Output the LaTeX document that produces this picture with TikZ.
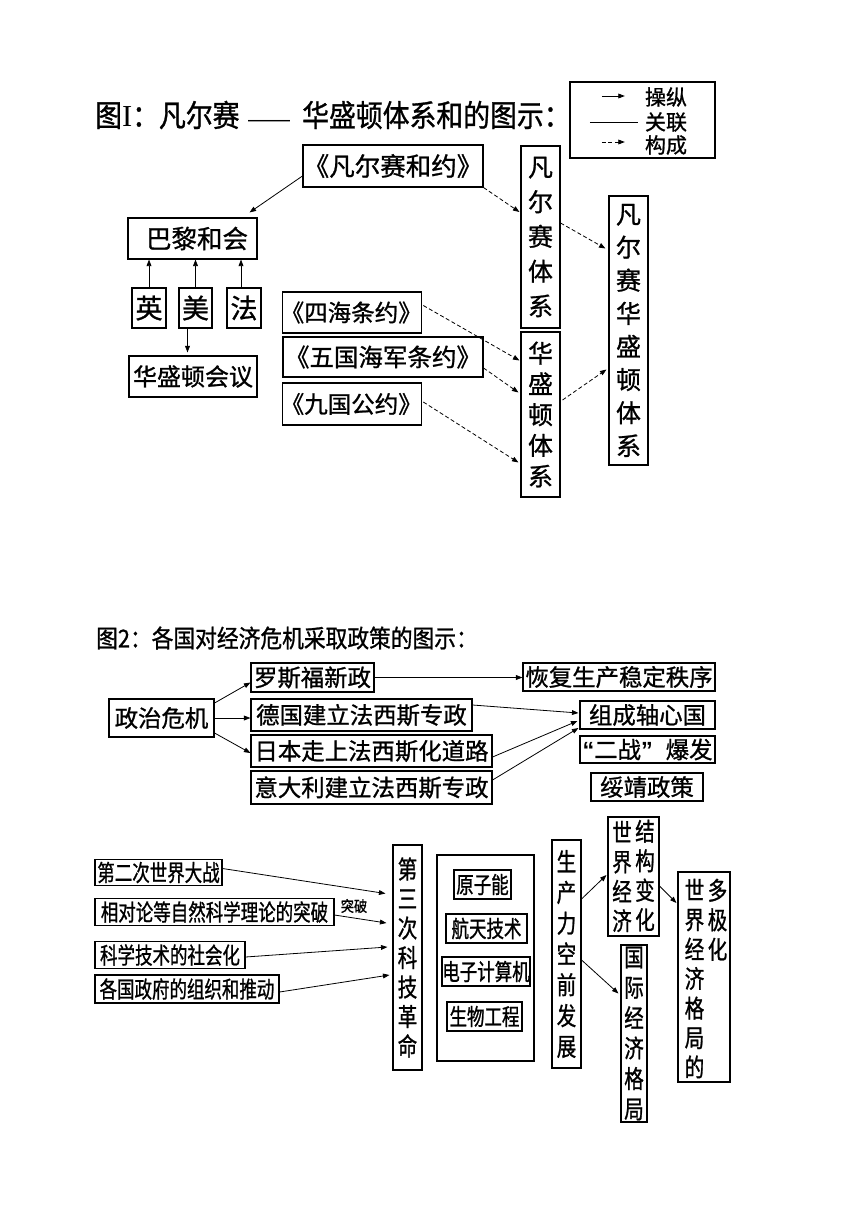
\documentclass[tikz,border=0pt]{standalone}
\usepackage{fontspec}
\setmainfont{Noto Sans CJK SC}[FakeBold=1]
\newfontfamily\fN[FakeBold=1]{Noto Sans CJK SC}
\newfontfamily\fA[FakeStretch=0.88,FakeBold=1]{Noto Sans CJK SC}
\newfontfamily\fC[FakeStretch=0.76,FakeBold=1]{Noto Sans CJK SC}
\newfontfamily\fV[FakeStretch=0.78,FakeBold=1]{Noto Sans CJK SC}
\newfontfamily\fS{Liberation Serif}
\newfontfamily\fQ{Liberation Sans}
\usetikzlibrary{arrows.meta}
\newcommand\kl[1]{\hspace{-#1pt}}
\begin{document}
\begin{tikzpicture}[x=1pt,y=-1pt,
  bx/.style={draw, line width=1.1pt, inner sep=0pt},
  sz/.style 2 args={minimum width=#1pt, minimum height=#2pt},
  fa/.style={font=\fN\fontsize{24}{28}\selectfont},
  fb/.style={font=\fN\fontsize{23.5}{28}\selectfont},
  fe/.style={font=\fN\fontsize{27}{28}\selectfont},
  fv/.style={align=center, font=\fN\fontsize{25}{#1}\selectfont},
  ft/.style={font=\fN\fontsize{23.4}{26}\selectfont},
  fc/.style={font=\fC\fontsize{23}{26}\selectfont},
  fw/.style={align=center, inner sep=0pt, font=\fV\fontsize{25}{#1}\selectfont},
  lgf/.style={inner sep=0pt, font=\fN\fontsize{21}{24}\selectfont},
  arr/.style={-{Triangle[length=6.5pt,width=4.8pt]}, line width=0.8pt},
  darr/.style={arr, dash pattern=on 4pt off 2.5pt}]
\useasboundingbox (0,0) rectangle (860,1215);
\fill[white] (0,0) rectangle (860,1215);

% ---------- Figure 1 ----------
\node[anchor=west, inner sep=0pt, font=\fA\fontsize{30.5}{32}\selectfont] (t1a) at (95,115) {图{\fS I}：凡尔赛};
\node[inner sep=0pt, font=\fQ\fontsize{21}{24}\selectfont] (t1d) at (269,123) {——};
\node[anchor=west, inner sep=0pt, font=\fA\fontsize{30.5}{32}\selectfont] (t1c) at (302,115) {华盛顿体系和的图示：};

\node[bx, sz={145}{76}] (lg) at (642.5,120) {};
\node[lgf] (l1) at (666,97) {操纵};
\node[lgf] (l2) at (666,122) {关联};
\node[lgf] (l3) at (666,145) {构成};
\draw[arr] ([xshift=-43pt,yshift=1pt]l1.west) -- ([xshift=-20pt,yshift=1pt]l1.west);
\draw[line width=0.8pt] ([xshift=-55pt]l2.west) -- ([xshift=-7pt]l2.west);
\draw[darr] ([xshift=-43pt,yshift=3pt]l3.west) -- ([xshift=-20pt,yshift=3pt]l3.west);

\node[bx, sz={180}{42}, font=\fN\fontsize{25.5}{28}\selectfont] (vt) at (393,166) {《凡尔赛和约》};
\node[bx, sz={129}{41}, font=\fN\fontsize{25.5}{28}\selectfont] (pl) at (192.5,238.5) {\hspace{9pt}巴黎和会};
\node[bx, sz={34}{40}, fe] (ying) at (149,308) {英};
\node[bx, sz={33}{40}, fe] (mei) at (195.5,308) {美};
\node[bx, sz={34}{40}, fe] (fa) at (244,308) {法};
\node[bx, sz={128}{41}, fa] (hy) at (193,376.5) {华盛顿会议};
\node[bx, sz={138}{41}, fb] (sh) at (352,312.5) {\kl{1.5}《四海条约》\kl{1.5}};
\node[bx, sz={200}{40}, font=\fN\fontsize{24.5}{28}\selectfont] (wg) at (383,357) {《五国海军条约》};
\node[bx, sz={138}{42}, fb] (jy) at (352,404) {\kl{1.5}《九国公约》\kl{1.5}};
\node[bx, sz={39}{182}, fv=34.75] (fes) at (540.5,237) {凡\\尔\\赛\\体\\系};
\node[bx, sz={39}{165}, fv=30.75] (hs) at (540.5,414.5) {华\\盛\\顿\\体\\系};
\node[bx, sz={39}{269}, fv=33.1] (fh) at (628.5,330.5) {凡\\尔\\赛\\华\\盛\\顿\\体\\系};

\draw[arr] ([yshift=-10pt]vt.west) -- ([xshift=-8pt,yshift=5pt]pl.north east);
\draw[arr] (ying.north) -- (ying.north |- pl.south);
\draw[arr] (mei.north) -- (mei.north |- pl.south);
\draw[arr] ([xshift=-3pt]fa.north) -- ([xshift=-3pt]fa.north |- pl.south);
\draw[arr, shorten >=3pt] ([xshift=-8pt]mei.south) -- ([xshift=-8pt]mei.south |- hy.north);

\draw[darr] (vt.south east) -- ([xshift=-1pt,yshift=25pt]fes.west);
\draw[darr] ([yshift=14pt]fes.east) -- ([xshift=-3pt,yshift=82pt]fh.west);
\draw[darr] ([xshift=1pt,yshift=7pt]sh.east) -- ([xshift=-1pt,yshift=54pt]hs.west);
\draw[darr] ([yshift=-11pt]wg.east) -- ([xshift=-2pt,yshift=22pt]hs.west);
\draw[darr] ([xshift=1pt,yshift=2pt]jy.east) -- ([xshift=-2pt,yshift=-48pt]hs.west);
\draw[darr] ([xshift=2pt,yshift=14.5pt]hs.east) -- ([xshift=-2pt,yshift=-39pt]fh.west);

% ---------- Figure 2 ----------
\node[anchor=west, inner sep=0pt, font=\fA\fontsize{24.7}{26}\selectfont] (t2) at (96,638) {图2：各国对经济危机采取政策的图示：};

\node[bx, sz={105}{38}, ft] (zz) at (161.5,718) {政治危机};
\node[bx, sz={123}{29}, ft] (ls) at (312.5,677.5) {罗斯福新政};
\node[bx, sz={192}{28}, ft] (hf) at (619,677) {恢复生产稳定秩序};
\node[bx, sz={221}{32}, ft] (dg) at (361.5,715) {德国建立法西斯专政};
\node[bx, sz={241}{32}, ft] (rb) at (371.5,751) {日本走上法西斯化道路};
\node[bx, sz={241}{33}, ft] (yd) at (371.5,787.5) {意大利建立法西斯专政};
\node[bx, sz={135}{28}, ft] (zx) at (647.5,715) {组成轴心国};
\node[bx, sz={135}{27}, ft] (ez) at (647.5,749.5) {{\fQ\bfseries “}二战{\fQ\bfseries ”}\hspace{13pt}爆发};
\node[bx, sz={112}{28}, ft] (sj) at (647,787) {绥靖政策};

\draw[arr] ([yshift=15pt]zz.east) -- ([yshift=-5pt]ls.west);
\draw[arr] (zz.east) -- (zz.east -| dg.west);
\draw[arr] ([yshift=-15pt]zz.east) -- ([yshift=-2pt]rb.west);
\draw[arr] (ls.east) -- (ls.east -| hf.west);
\draw[arr] ([yshift=10pt]dg.east) -- ([xshift=-1pt,yshift=2pt]zx.west);
\draw[arr] ([yshift=-6pt]rb.east) -- ([xshift=-2pt,yshift=-6pt]zx.west);
\draw[arr] ([yshift=7.5pt]yd.east) -- ([xshift=-1pt,yshift=-13pt]zx.west);

% ---------- Figure 3 ----------
\node[bx, sz={127}{26}, fc] (s1) at (158.5,872.5) {第二次世界大战};
\node[bx, sz={239}{27}, fc] (s2) at (214.5,912) {相对论等自然科学理论的突破};
\node[bx, sz={150}{27}, fc] (s3) at (170,955) {科学技术的社会化};
\node[bx, sz={184}{28}, fc] (s4) at (187,989) {各国政府的组织和推动};
\node[inner sep=0pt, font=\fA\fontsize{15}{17}\selectfont] (tp) at (354,906) {突破};
\node[bx, sz={29}{225}, fw=29.5] (kj) at (407.5,957.5) {第\\三\\次\\科\\技\\革\\命};
\node[bx, sz={97}{206}] (ct) at (485.5,958) {};
\node[bx, sz={57}{29}, fc] (yz) at (482.5,884.5) {原子能};
\node[bx, sz={81}{29}, fc] (ht) at (486.5,928.5) {航天技术};
\node[bx, sz={88}{29}, fc] (dz) at (486,971.5) {电子计算机};
\node[bx, sz={75}{29}, fc] (sw) at (484.5,1016.5) {生物工程};
\node[bx, sz={29}{228}, fw=30.8] (sc) at (566.5,954) {生\\产\\力\\空\\前\\发\\展};
\node[bx, sz={51}{119}] (jg) at (633.5,876.5) {};
\node[fw=29.5] (jgl) at (622,876.5) {世\\界\\经\\济};
\node[fw=29.5] (jgr) at (645,875.5) {结\\构\\变\\化};
\node[bx, sz={26}{177}, fw=30.4] (gj) at (634,1033.5) {国\\际\\经\\济\\格\\局};
\node[bx, sz={52}{210}] (dj) at (704,977) {};
\node[fw=29.5] (djl) at (694.5,978.5) {世\\界\\经\\济\\格\\局\\的};
\node[fw=29.5, anchor=north] (djr) at ([xshift=23pt]djl.north) {多\\极\\化};

\draw[arr] ([yshift=4pt]s1.east) -- ([xshift=-7pt,yshift=64pt]kj.west);
\draw[arr] ([yshift=-3pt]s2.east) -- ([xshift=-6pt,yshift=34.5pt]kj.west);
\draw[arr] ([yshift=-2pt]s3.east) -- ([xshift=-5pt,yshift=10.5pt]kj.west);
\draw[arr] ([yshift=-3pt]s4.east) -- ([xshift=-3pt,yshift=-17.5pt]kj.west);
\draw[arr] ([yshift=55pt]sc.east) -- ([xshift=-1pt,yshift=1.5pt]jg.west);
\draw[arr] ([yshift=-6pt]sc.east) -- ([xshift=-2pt,yshift=40pt]gj.west);
\draw[arr] ([yshift=-9.5pt]jg.east) -- ([xshift=-1pt,yshift=74pt]dj.west);
\end{tikzpicture}
\end{document}
